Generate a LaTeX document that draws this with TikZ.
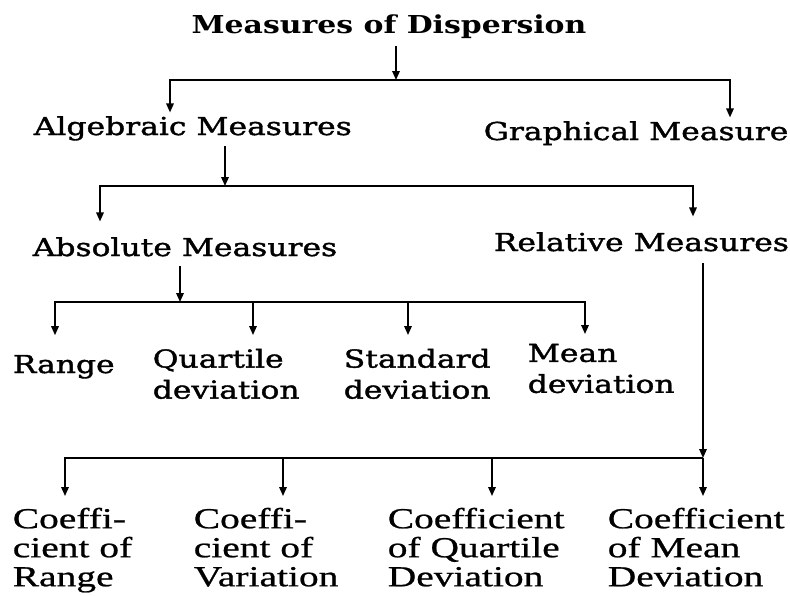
\documentclass[tikz,border=0pt]{standalone}
\usepackage{fontspec}
\setmainfont{Liberation Serif}
\newfontfamily\headfont[FakeStretch=1.27, FakeBold=1.5]{DejaVu Serif}
\newfontfamily\titlefont[FakeStretch=1.21]{DejaVu Serif}
\newfontfamily\leaffont[FakeStretch=1.36, FakeBold=0.8]{Liberation Serif}
\usetikzlibrary{arrows.meta}

\begin{document}
\begin{tikzpicture}[x=1pt, y=-1pt, >={Triangle[length=9pt, width=7.5pt]}, line width=1.6pt]
  \tikzset{
    head/.style={font=\headfont\fontsize{24.7}{31}\selectfont, inner xsep=0pt, inner ysep=3pt, align=left},
    title/.style={head, font=\titlefont\bfseries\fontsize{24.7}{31}\selectfont},
    leaf/.style={font=\leaffont\fontsize{29}{29}\selectfont, inner xsep=0pt, inner ysep=3pt, align=left, anchor=north west},
  }
  \useasboundingbox (0,0) rectangle (790,595);

  % Nodes
  \node[title, anchor=base] (disp) at (389,33) {Measures of Dispersion};
  \node[head, anchor=base west] (alg) at (33,135) {Algebraic Measures};
  \node[head, anchor=base west] (graph) at (483,140) {Graphical Measure};
  \node[head, anchor=base west] (abs) at (32,256) {Absolute Measures};
  \node[head, anchor=base west] (rel) at (493,251) {Relative Measures};
  \node[head, anchor=base west] (range) at (12,373) {Range};
  \node[head, anchor=north west] (quart) at (152,345) {Quartile\\deviation};
  \node[head, anchor=north west] (std) at (343,345) {Standard\\deviation};
  \node[head, anchor=north west] (mean) at (527,340) {Mean\\deviation};
  \node[leaf] (cr) at (12,504) {Coeffi-\\cient of\\Range};
  \node[leaf] (cv) at (193,504) {Coeffi-\\cient of\\Variation};
  \node[leaf] (cq) at (387,504) {Coefficient\\of Quartile\\Deviation};
  \node[leaf] (cm) at (607,504) {Coefficient\\of Mean\\Deviation};

  % Junctions
  \coordinate (j0) at (396,80);
  \coordinate (ja) at (170,80);
  \coordinate (jg) at (730,80);
  \coordinate (j1) at (225,186);
  \coordinate (jb) at (100,186);
  \coordinate (jr) at (693,186);
  \coordinate (j2) at (180,302);
  \coordinate (d1) at (55,302);
  \coordinate (d2) at (253,302);
  \coordinate (d3) at (408,302);
  \coordinate (d4) at (585,302);
  \coordinate (j3) at (703,458);
  \coordinate (e1) at (65,458);
  \coordinate (e2) at (283,458);
  \coordinate (e3) at (492,458);

  % Edges
  \draw[->, shorten <=4pt] (disp.south -| j0) -- (j0);
  \draw[->] (j0) -- (ja) -- (ja |- alg.north);
  \draw[->] (j0) -- (jg) -- (jg |- graph.north);

  \draw[->, shorten <=2pt] (alg.south -| j1) -- (j1);
  \draw[->, shorten >=12pt] (j1) -- (jb) -- (jb |- abs.north);
  \draw[->, shorten >=12pt] (j1) -- (jr) -- (jr |- rel.north);

  \draw[->, shorten <=6pt] (abs.south -| j2) -- (j2);
  \draw[->, shorten >=16pt] (j2) -- (d1) -- (d1 |- range.north);
  \draw[->, shorten >=6pt] (j2) -- (d4) -- (d4 |- mean.north);
  \draw[->, shorten >=10pt] (d2) -- (d2 |- quart.north);
  \draw[->, shorten >=10pt] (d3) -- (d3 |- std.north);

  \draw[->, shorten <=8pt] (rel.south -| j3) -- (j3);
  \draw[->, shorten >=8pt] (j3) -- (e1) -- (e1 |- cr.north);
  \draw[->, shorten >=8pt] (e2) -- (e2 |- cv.north);
  \draw[->, shorten >=8pt] (e3) -- (e3 |- cq.north);
  \draw[->, shorten >=8pt] (j3) -- (j3 |- cm.north);
\end{tikzpicture}
\end{document}
